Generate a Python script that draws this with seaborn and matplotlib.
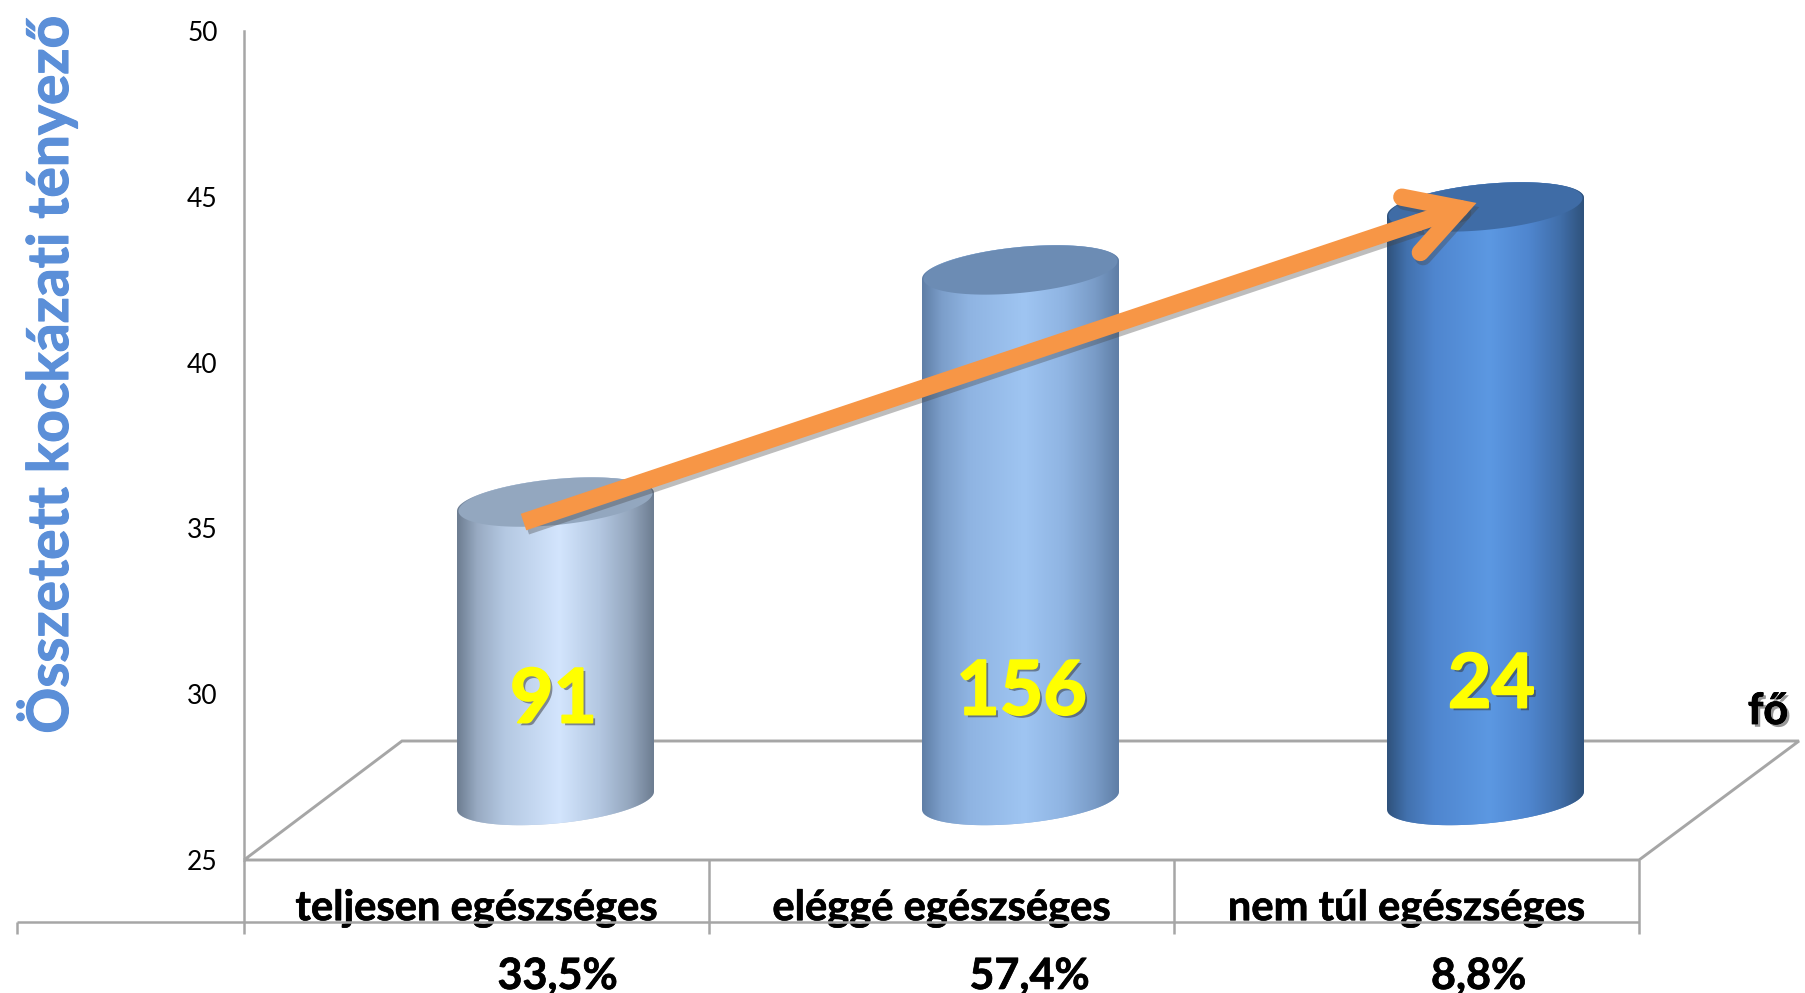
import numpy as np
import matplotlib
matplotlib.use("Agg")
import matplotlib.pyplot as plt
import matplotlib.patheffects as pe
from matplotlib.colors import LinearSegmentedColormap, to_rgb
from matplotlib.patches import Polygon
import seaborn as sns

# ==========================================================
# DATA
# ==========================================================
categories = ["teljesen egészséges", "eléggé egészséges", "nem túl egészséges"]
risk_values = [34.0, 41.0, 42.9]
counts = ["91", "156", "24"]
shares = ["33,5%", "57,4%", "8,8%"]
y_ticks = [25, 30, 35, 40, 45, 50]
y_title = "Összetett kockázati tényező"
unit_label = "fő"

# ==========================================================
# STYLE
# ==========================================================
sns.set_theme(style="white")
plt.rcParams["font.family"] = ["Lato", "DejaVu Sans"]

LINE = "#a6a6a6"
ORANGE = "#f79646"
BASE = ["#b4c8e2", "#8fb4e2", "#4f86cf"]
EDGE = ["#6d7d91", "#5f7ea6", "#2f527c"]
MID = ["#d3e5fd", "#9fc5f2", "#5c98e2"]
CAP = ["#93a7bf", "#6c8cb4", "#3f6ca6"]

# one pixel in data units (axes box is 1395 x 829 px)
PX_X = 3 / 1395
PX_Y = 25 / 829
DEPTH_X = 158 * PX_X
DEPTH_Y = 119 * PX_Y
BAR_WIDTH = 197 * PX_X

fig = plt.figure(figsize=(18.05, 9.93), dpi=100, facecolor="white")
ax = fig.add_axes([244 / 1805, (993 - 860) / 993, 1395 / 1805, 829 / 993])
ax.patch.set_alpha(0)

sns.barplot(x=categories, y=risk_values, hue=categories, palette=BASE,
            width=BAR_WIDTH, legend=False, ax=ax, zorder=3)


def gray(xs, ys, lw=1.8, z=1):
    ax.plot(xs, ys, color=LINE, lw=lw, clip_on=False, zorder=z,
            solid_capstyle="butt", solid_joinstyle="miter")


def blend(c1, c2, f):
    return tuple((1 - f) * np.array(to_rgb(c1)) + f * np.array(to_rgb(c2)))


def heavy(color, w=0.9):
    # text in the original is a bit heavier than Lato Bold
    return pe.withStroke(linewidth=w, foreground=color)


# ==========================================================
# FLOOR AND FRAME
# ==========================================================
floor_y = 25 + DEPTH_Y
gray([-0.5, -0.5 + DEPTH_X, 2.5 + DEPTH_X + 2 * PX_X, 2.5, -0.5], [25, floor_y, floor_y, 25, 25], lw=2.1)

below = 25 - 62 * PX_Y
tick_end = 25 - 74 * PX_Y
gray([-0.5 - 227 * PX_X, 2.5], [below, below], z=6)
gray([-0.5 - 227 * PX_X] * 2, [below, tick_end])
for edge in [-0.5, 0.5, 1.5, 2.5]:
    gray([edge, edge], [25, tick_end])

# ==========================================================
# CYLINDERS
# ==========================================================
cap_b = 23 * PX_Y
tilt = 9 * PX_Y
t_all = np.linspace(0, 2 * np.pi, 120)
t_top = np.linspace(0, np.pi, 60)
t_bot = np.linspace(np.pi, 2 * np.pi, 60)
label_nudge = [(-2, -2), (1, 1), (6, 3)]
share_nudge = [2, 9, -7]
centers = []

for i, patch in enumerate(ax.patches[:3]):
    x0 = patch.get_x() + DEPTH_X / 2
    a = patch.get_width() / 2
    cx = x0 + a
    top = patch.get_height() + DEPTH_Y / 2
    base = 25 + DEPTH_Y / 2
    centers.append((cx, top))

    # silhouette: upper half of the top ellipse, lower half of the bottom one
    xs = np.r_[cx + a * np.cos(t_top), cx + a * np.cos(t_bot)]
    ys = np.r_[top + tilt * np.cos(t_top) + cap_b * np.sin(t_top),
               base + tilt * np.cos(t_bot) + cap_b * np.sin(t_bot)]
    body = Polygon(np.c_[xs, ys], closed=True, fc="none", ec="none",
                   transform=ax.transData)
    ax.add_patch(body)

    patch.set_x(x0)
    patch.set_y(base - cap_b - tilt)
    patch.set_height(top + cap_b + tilt - (base - cap_b - tilt))
    patch.set_clip_path(body)

    shade = LinearSegmentedColormap.from_list(
        f"cyl{i}",
        [(0, EDGE[i]), (0.1, blend(EDGE[i], BASE[i], 0.6)), (0.24, BASE[i]), (0.52, MID[i]),
         (0.72, BASE[i]), (0.88, blend(EDGE[i], BASE[i], 0.55)), (1, EDGE[i])])
    grad = np.linspace(0, 1, 256)[None, :]
    img = ax.imshow(grad, cmap=shade, aspect="auto", interpolation="bilinear", zorder=4,
                    extent=[x0, x0 + 2 * a, base - 2, top + 2])
    img.set_clip_path(body)

    cap = Polygon(np.c_[cx + a * 0.985 * np.cos(t_all),
                        top + tilt * np.cos(t_all) + cap_b * np.sin(t_all)],
                  closed=True, fc=CAP[i], ec="none", zorder=5)
    ax.add_patch(cap)

    dx, dy = label_nudge[i]
    label = ax.text(cx + dx * PX_X, 25 + (164 + i * 5 + dy) * PX_Y - 3 * PX_Y, counts[i], color="#ffff00",
                    fontsize=54, fontweight="bold", ha="center", va="center", zorder=7)
    label.set_path_effects([pe.withSimplePatchShadow(offset=(2, -2), shadow_rgbFace="#333333", alpha=0.5),
                            heavy("#ffff00", 1.4)])

    share = ax.text(cx + share_nudge[i] * PX_X, 25 - 116 * PX_Y, shares[i], color="black", fontsize=31,
                    fontweight="bold", ha="center", va="center", clip_on=False)
    share.set_path_effects([heavy("black", 0.5)])

# ==========================================================
# ARROW
# ==========================================================
start = np.array([centers[0][0] - 32 * PX_X, centers[0][1] - 20 * PX_Y])
tip = np.array([centers[2][0] - 9 * PX_X, centers[2][1] + 4 * PX_Y])
joint = start + 0.94 * (tip - start)

# shadows go in a lower layer so the two parts of the arrow join cleanly
layers = [(7.5, [pe.SimpleLineShadow(offset=(2, -3), shadow_color="#444444", alpha=0.35)]),
          (8, [pe.Normal()])]
for z, effects in layers:
    shaft = ax.annotate("", xy=joint, xytext=start, zorder=z,
                        arrowprops=dict(arrowstyle="-", color=ORANGE, lw=12.5, shrinkA=0, shrinkB=0,
                                        capstyle="butt"))
    head = ax.annotate("", xy=tip, xytext=joint, zorder=z,
                       arrowprops=dict(arrowstyle="->,head_length=3.7,head_width=2.1", mutation_scale=10,
                                       color=ORANGE, lw=12.5, shrinkA=0, shrinkB=0,
                                       capstyle="round", joinstyle="miter"))
    shaft.arrow_patch.set_path_effects(effects)
    head.arrow_patch.set_path_effects(effects)

# ==========================================================
# AXES AND TEXT
# ==========================================================
ax.set_xlim(-0.5, 2.5)
ax.set_ylim(25, 50)
ax.set_yticks(y_ticks)
ax.tick_params(axis="y", length=0, pad=19, labelsize=19, labelcolor="black")
ax.tick_params(axis="x", length=0, pad=21, labelsize=30, labelcolor="black")
for lab in ax.get_xticklabels():
    lab.set_fontweight("bold")
    lab.set_path_effects([heavy("black", 0.5)])

for side in ["top", "right", "bottom"]:
    ax.spines[side].set_visible(False)
ax.spines["left"].set_color(LINE)
ax.spines["left"].set_linewidth(1.8)

ylab = ax.set_ylabel(y_title, color="#5b8fd8", fontsize=41, fontweight="bold")
ylab.set_path_effects([heavy("#5b8fd8", 0.8)])
ax.yaxis.set_label_coords((79 - 245) / 1395, (860 - 374) / 829)

fo = ax.text(2.5 + 129 * PX_X, 25 + 149 * PX_Y, unit_label, color="black", fontsize=31,
             fontweight="bold", ha="center", va="center", clip_on=False)
fo.set_path_effects([pe.withSimplePatchShadow(offset=(2, -2), shadow_rgbFace="#333333", alpha=0.5),
                     heavy("black", 0.6)])

fig.savefig("out.png", dpi=100, facecolor="white")
